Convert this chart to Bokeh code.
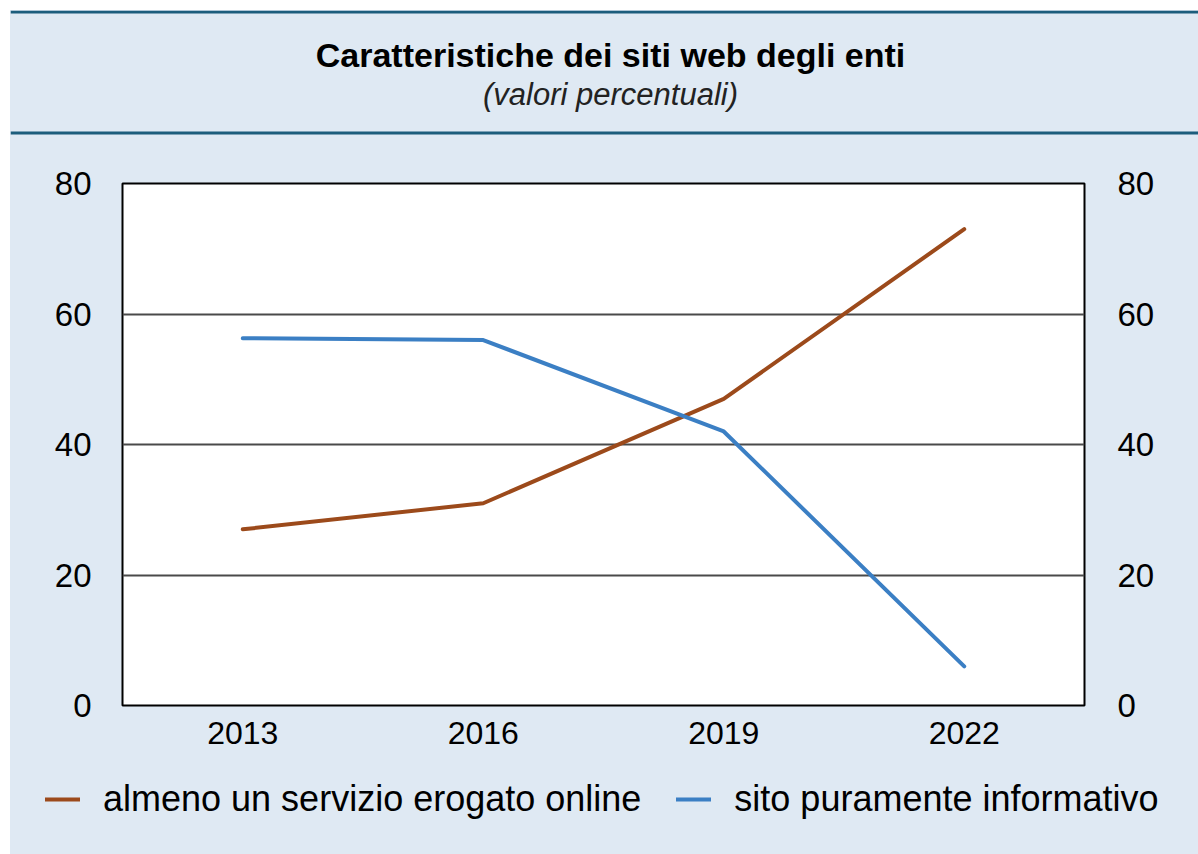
from bokeh.plotting import figure
from bokeh.models import Range1d, FactorRange, LinearAxis, FixedTicker, Span, Legend
from bokeh.layouts import column, row
from bokeh.core.properties import value
from bokeh.embed import file_html
from bokeh.resources import INLINE

# ---- data ----
years = ["2013", "2016", "2019", "2022"]
servizio_online = [27.0, 31.0, 47.0, 73.0]
sito_informativo = [56.3, 56.0, 42.0, 6.0]
y_ticks = [0, 20, 40, 60, 80]
title_text = "Caratteristiche dei siti web degli enti"
subtitle_text = "(valori percentuali)"
series_names = ["almeno un servizio erogato online", "sito puramente informativo"]

BG = "#dfe9f3"
TEAL = "#1c5d7c"
BROWN = "#9c4a1b"
BLUE = "#3b7fc4"
FONT = "Liberation Sans"
W = 1188
HH = 126   # header height
MH = 624   # main chart height
FH = 94    # footer (legend) height


def bare(fig):
    fig.axis.visible = False
    fig.grid.visible = False
    fig.outline_line_color = None
    fig.background_fill_color = BG
    fig.border_fill_color = BG
    return fig


# ---- header ----
hdr = bare(figure(width=W, height=HH, x_range=Range1d(0, W), y_range=Range1d(HH, 0),
                  output_backend="svg", toolbar_location=None, min_border=0,
                  min_border_left=0, min_border_right=0, min_border_top=0, min_border_bottom=0))
hdr.add_layout(Span(location=1.5, dimension="width", line_color=TEAL, line_width=3))
hdr.add_layout(Span(location=122.5, dimension="width", line_color=TEAL, line_width=3))
hdr.text(x=[600], y=[44], text=[title_text], text_font=value(FONT),
         text_font_style="bold", text_font_size="34px", text_align="center",
         text_baseline="middle", text_color="black")
hdr.text(x=[600], y=[84], text=[subtitle_text], text_font=value(FONT),
         text_font_style="italic", text_font_size="31px", text_align="center",
         text_baseline="middle", text_color="#222222")

# ---- main chart ----
p = figure(width=W, height=MH, x_range=FactorRange(factors=years),
           y_range=Range1d(0, 80), output_backend="svg", toolbar_location=None,
           min_border_left=112, min_border_right=114,
           min_border_top=47, min_border_bottom=MH - 47 - 522)
p.background_fill_color = "white"
p.border_fill_color = BG
p.outline_line_color = "black"
p.outline_line_width = 2

p.xgrid.visible = False
p.ygrid.ticker = FixedTicker(ticks=y_ticks)
p.ygrid.grid_line_color = "#4a4a4a"
p.ygrid.grid_line_width = 2

p.yaxis.ticker = FixedTicker(ticks=y_ticks)
right_axis = LinearAxis(ticker=FixedTicker(ticks=y_ticks))
p.add_layout(right_axis, "right")

for ax in p.xaxis + p.yaxis:
    ax.axis_line_color = None
    ax.major_tick_line_color = None
    ax.minor_tick_line_color = None
    ax.major_tick_out = 0
    ax.major_tick_in = 0
    ax.minor_tick_out = 0
    ax.minor_tick_in = 0
    ax.major_label_text_font = FONT
    ax.major_label_text_font_size = "32px"
    ax.major_label_text_color = "black"
for ax in p.yaxis:
    ax.major_label_text_font_size = "33px"
p.xaxis.major_label_standoff = 16
p.yaxis[0].major_label_standoff = 31
right_axis.major_label_standoff = 33

p.line(years, servizio_online, line_color=BROWN, line_width=4, line_cap="round")
p.line(years, sito_informativo, line_color=BLUE, line_width=4, line_cap="round")

# ---- footer with legend (same series, drawn outside the footer's visible range) ----
ftr = bare(figure(width=W, height=FH, x_range=FactorRange(factors=years),
                  y_range=Range1d(1000, 1001),
                  output_backend="svg", toolbar_location=None, min_border=0,
                  min_border_left=0, min_border_right=0, min_border_top=0, min_border_bottom=0))
k1 = ftr.line(years, servizio_online, line_color=BROWN, line_width=4, line_cap="round")
k2 = ftr.line(years, sito_informativo, line_color=BLUE, line_width=4, line_cap="round")
legend = Legend(items=[(series_names[0], [k1]), (series_names[1], [k2])],
                location=(35, 34), orientation="horizontal")
legend.background_fill_alpha = 0
legend.border_line_color = None
legend.padding = 0
legend.margin = 0
legend.spacing = 35
legend.glyph_width = 35
legend.glyph_height = 40
legend.label_height = 40
legend.label_standoff = 23
legend.label_text_font = FONT
legend.label_text_font_size = "36px"
legend.label_text_color = "black"
legend.label_text_baseline = "middle"
ftr.add_layout(legend, "center")

hrow = row(hdr, spacing=0)
frow = row(ftr, spacing=0)
layout = column(hrow, p, frow, spacing=0)
for obj in (hrow, frow, layout):
    obj.styles = {"background-color": BG}
layout.margin = (10, 0, 0, 10)
open("out.html", "w").write(file_html(layout, INLINE))
